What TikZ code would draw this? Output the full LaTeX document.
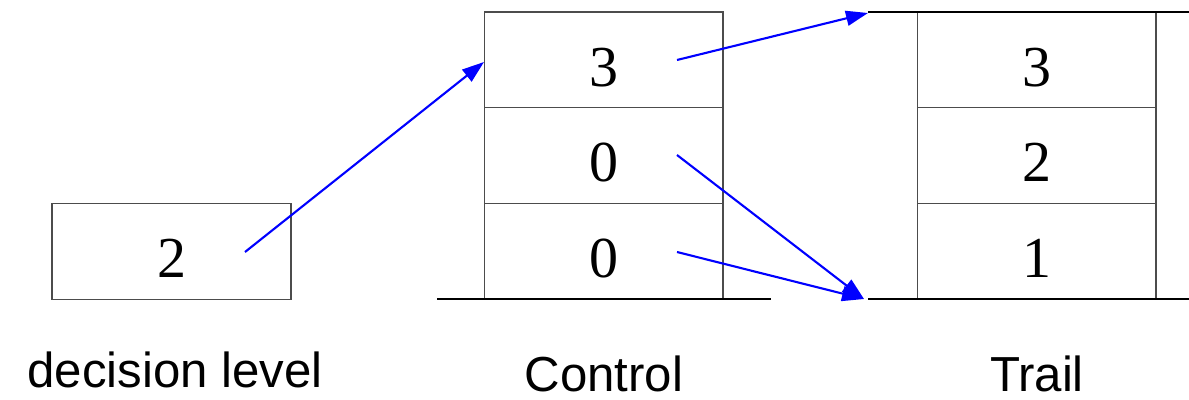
\documentclass[tikz,border=0pt]{standalone}
\usepackage{fontspec}
\setmainfont{Liberation Serif}
\setsansfont{Liberation Sans}
\usetikzlibrary{arrows.meta}
\begin{document}
\begin{tikzpicture}
    [
    x=0.02cm, y=-0.02cm,
    cell/.style={draw=black!70,line width=0.6pt,rectangle,inner sep=0pt,minimum width=4.78cm,minimum height=1.913cm,text height=1.05cm,text depth=0pt,font=\fontsize{33}{36}\selectfont},
    base/.style={line width=1.4pt},
    link/.style={blue,line width=1.2pt,-{Triangle[length=0.44cm,width=0.3cm]}},
    caption/.style={anchor=base,inner sep=0pt,font=\sffamily\fontsize{28}{30}\selectfont}
    ]
    \useasboundingbox (0,0) rectangle (1189,399);
    % decision level
    \node (dl) at (171.5,251.5) [cell] {2};
    % control stack
    \node (c3) at (603.5,59.8) [cell] {3};
    \node (c2) at (603.5,155.5) [cell] {0};
    \node (c1) at (603.5,251.2) [cell] {0};
    % trail
    \node (t3) at (1036.5,59.8) [cell] {3};
    \node (t2) at (1036.5,155.5) [cell] {2};
    \node (t1) at (1036.5,251.2) [cell] {1};
    \coordinate (cbl) at (437,299);
    \coordinate (cbr) at (771,299);
    \coordinate (ttl) at (868,12);
    \coordinate (ttr) at (1189,12);
    \coordinate (tbl) at (868,299);
    \coordinate (tbr) at (1189,299);
    \draw [base] (cbl) -- (cbr);
    \draw [base] (ttl) -- (ttr);
    \draw [base] (tbl) -- (tbr);
    % arrow ends
    \coordinate (s0) at (245,252);
    \coordinate (s3) at (677,60);
    \coordinate (s2) at (677,155);
    \coordinate (s1) at (677,252);
    \coordinate (e3) at (484,62);
    \coordinate (etop) at (868,13);
    \coordinate (ebot) at (864,299);
    \draw [link] (s0) to (e3);
    \draw [link] (s3) to (etop);
    \draw [link] (s2) to (ebot);
    \draw [link] (s1) to (ebot);
    % captions
    \node (ldl) at (175,387) [caption] {decision level};
    \node (lc) at (604,391) [caption] {Control};
    \node (lt) at (1037,391) [caption] {Trail};
  \end{tikzpicture}
\end{document}
